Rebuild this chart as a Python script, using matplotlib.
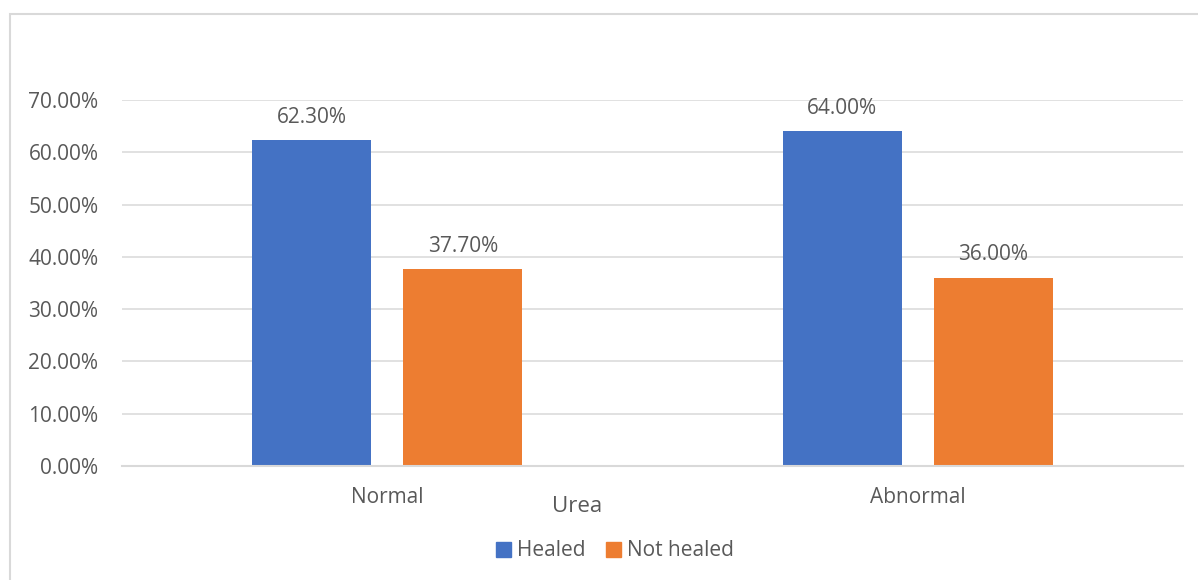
import matplotlib
matplotlib.use("Agg")
import matplotlib.pyplot as plt
from matplotlib.patches import Rectangle, Patch
import numpy as np

categories = ["Normal", "Abnormal"]
series_names = ["Healed", "Not healed"]
healed = [0.623, 0.640]
not_healed = [0.377, 0.360]
yticks = [0.0, 0.1, 0.2, 0.3, 0.4, 0.5, 0.6, 0.7]
axis_title = "Urea"

plt.rcParams['font.family'] = ['Open Sans', 'DejaVu Sans']
TXT = '#595959'
GRID = '#d9d9d9'
BLUE = '#4472C4'
ORANGE = '#ED7D31'
FS = 15

W, H = 1198, 580
fig = plt.figure(figsize=(W/100, H/100), dpi=100)
ax = fig.add_axes([122/W, 1-466/H, (1183-122)/W, (466-100)/H])

x = np.arange(len(categories))
bw = 0.2245
off = 0.1425
b1 = ax.bar(x - off, healed, bw, color=BLUE, zorder=3)
b2 = ax.bar(x + off, not_healed, bw, color=ORANGE, zorder=3)

for bars, vals in ((b1, healed), (b2, not_healed)):
    for r, v in zip(bars, vals):
        ax.annotate(f"{v*100:.2f}%", (r.get_x() + r.get_width()/2, v),
                    xytext=(0, 12.5), textcoords='offset points',
                    ha='center', va='baseline', fontsize=FS, color=TXT)

ax.set_xlim(-0.5, len(categories) - 0.5)
ax.set_ylim(0, 0.7)
ax.set_yticks(yticks)
ax.set_yticklabels([f"{t*100:.2f}%" for t in yticks])
ax.set_xticks(x)
ax.set_xticklabels(categories)
ax.tick_params(axis='both', length=0, labelsize=FS, labelcolor=TXT)
ax.tick_params(axis='y', pad=17)
ax.tick_params(axis='x', pad=15)
ax.grid(axis='y', color=GRID, linewidth=1.1, zorder=0)
for s in ('top', 'right', 'left'):
    ax.spines[s].set_visible(False)
ax.spines['bottom'].set_color(GRID)
ax.spines['bottom'].set_linewidth(1.5)
ax.spines['bottom'].set_zorder(4)

fig.text(577/W, 1-506/H, axis_title, ha='center', va='center', fontsize=16, color=TXT)

handles = [Patch(color=BLUE), Patch(color=ORANGE)]
fig.legend(handles, series_names, loc='center', bbox_to_anchor=(615/W, 1-551/H),
           ncol=2, frameon=False, fontsize=FS, labelcolor=TXT,
           handlelength=0.7, handleheight=0.7, handletextpad=0.3, columnspacing=1.0)

# outer chart border
fig.patches.append(Rectangle((10/W, -0.05), 1.2, 1.05 - 13.5/H, transform=fig.transFigure,
                             fill=False, edgecolor=GRID, linewidth=1.5))

fig.savefig("out.png", dpi=100, facecolor='white')
